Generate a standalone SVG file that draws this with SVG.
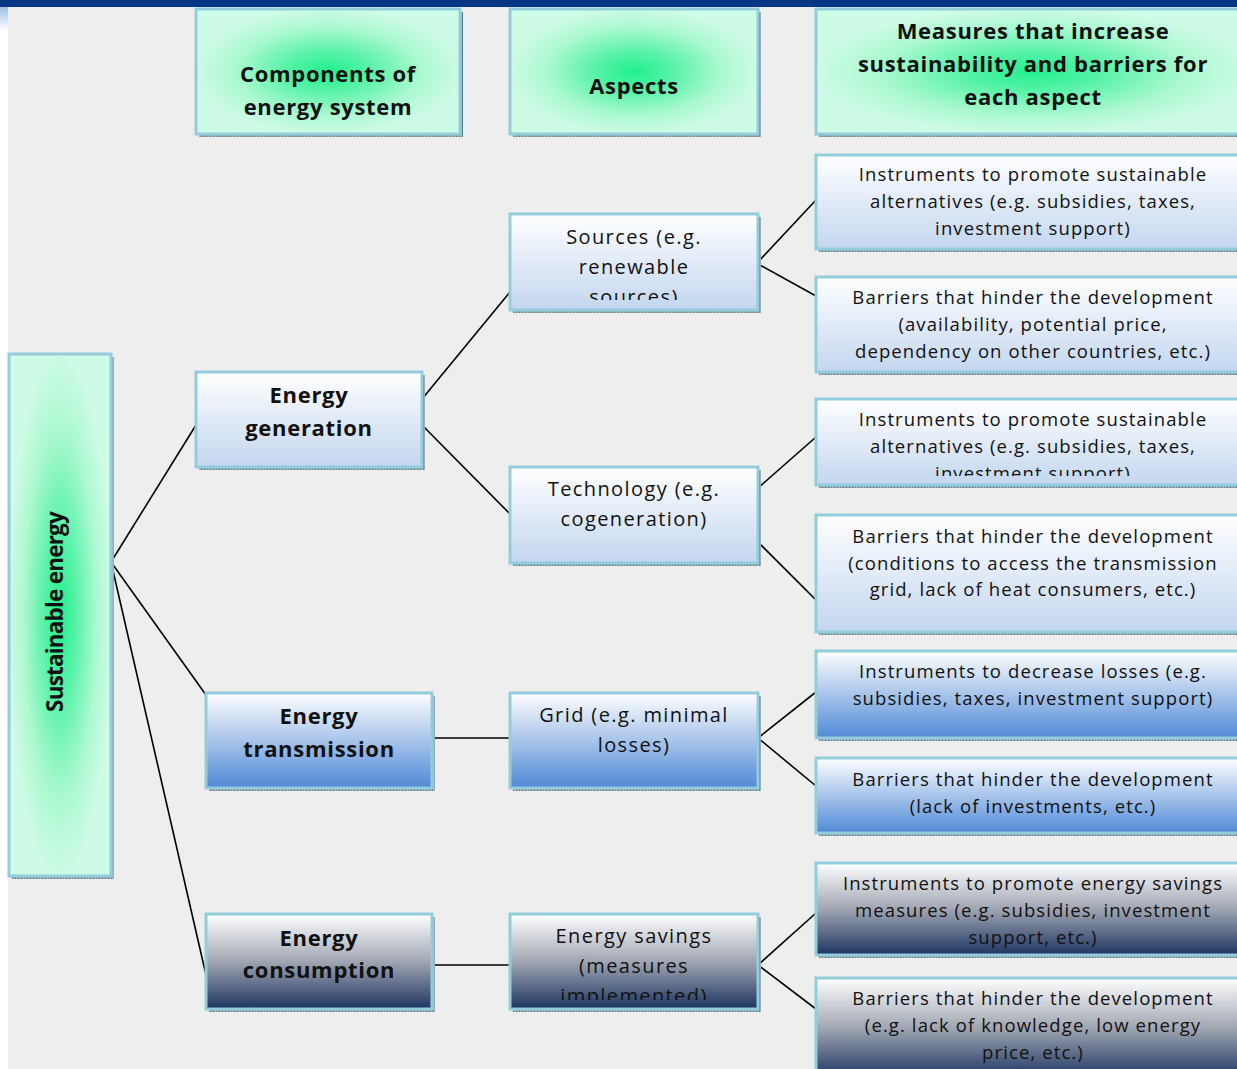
<svg xmlns="http://www.w3.org/2000/svg" width="1237" height="1069" viewBox="0 0 1237 1069">
<defs>
<style>
.box{stroke:#93cddd;stroke-width:3}
.sh{fill:url(#shp)}
.t{font-family:"Open Sans","Noto Sans",sans-serif;fill:#111;text-anchor:middle}
.r{font-size:18.5px;letter-spacing:1.1px}
.a{font-size:20px;letter-spacing:1.4px}
.b{font-size:22px;font-weight:700;letter-spacing:0.7px}
.c{stroke:#000;stroke-width:1.6;fill:none}
</style>
<pattern id="shp" width="3" height="3" patternUnits="userSpaceOnUse">
<rect width="3" height="3" fill="#9aadb4"/>
<rect width="1" height="3" fill="#5f7b86"/>
</pattern>
<radialGradient id="gg" cx="0.5" cy="0.5" r="0.5">
<stop offset="0" stop-color="#22f08c"/>
<stop offset="0.3" stop-color="#55f2a6"/>
<stop offset="0.7" stop-color="#aaf8d0"/>
<stop offset="1" stop-color="#cdfbe5"/>
</radialGradient>
<linearGradient id="gl" x1="0" y1="0" x2="0" y2="1">
<stop offset="0" stop-color="#ffffff"/>
<stop offset="1" stop-color="#c3d6ef"/>
</linearGradient>
<linearGradient id="gb" x1="0" y1="0" x2="0" y2="1">
<stop offset="0" stop-color="#ffffff"/>
<stop offset="1" stop-color="#5089d6"/>
</linearGradient>
<linearGradient id="gd" x1="0" y1="0" x2="0" y2="1">
<stop offset="0" stop-color="#ffffff"/>
<stop offset="0.5" stop-color="#a0a6b2"/>
<stop offset="1" stop-color="#1d3461"/>
</linearGradient>
<linearGradient id="gtl" x1="0" y1="0" x2="0" y2="1">
<stop offset="0" stop-color="#9fc0e8"/>
<stop offset="1" stop-color="#ffffff"/>
</linearGradient>
<clipPath id="cs"><rect x="505" y="210" width="260" height="90"/></clipPath>
<clipPath id="cr3"><rect x="810" y="395" width="440" height="81"/></clipPath>
<clipPath id="ces"><rect x="505" y="910" width="260" height="90"/></clipPath>
</defs>

<rect x="0" y="0" width="1237" height="1069" fill="#ffffff"/>
<rect x="8" y="7" width="1229" height="1062" fill="#eeeeee"/>
<rect x="0" y="7" width="8" height="24" fill="url(#gtl)"/>
<rect x="0" y="0" width="1237" height="7" fill="#063784"/>

<g id="connectors">
<line class="c" x1="111" y1="562" x2="196" y2="425"/>
<line class="c" x1="111" y1="562" x2="206" y2="695"/>
<line class="c" x1="111" y1="562" x2="206" y2="975"/>
<line class="c" x1="422" y1="399" x2="510" y2="292"/>
<line class="c" x1="422" y1="425" x2="510" y2="514"/>
<line class="c" x1="432" y1="738" x2="510" y2="738"/>
<line class="c" x1="432" y1="965" x2="510" y2="965"/>
<line class="c" x1="758" y1="262" x2="816" y2="200"/>
<line class="c" x1="758" y1="264" x2="816" y2="296"/>
<line class="c" x1="758" y1="488" x2="816" y2="437"/>
<line class="c" x1="758" y1="542" x2="816" y2="600"/>
<line class="c" x1="758" y1="738" x2="816" y2="692"/>
<line class="c" x1="758" y1="738" x2="816" y2="786"/>
<line class="c" x1="758" y1="965" x2="816" y2="913"/>
<line class="c" x1="758" y1="965" x2="816" y2="1009"/>
</g>

<g id="hdr-components">
<rect class="sh" x="199" y="12" width="264" height="125"/>
<rect class="box" x="196" y="9" width="264" height="125" fill="url(#gg)"/>
<text class="t b" x="328" y="82">Components of</text>
<text class="t b" x="328" y="115">energy system</text>
</g>
<g id="hdr-aspects">
<rect class="sh" x="513" y="12" width="248" height="125"/>
<rect class="box" x="510" y="9" width="248" height="125" fill="url(#gg)"/>
<text class="t b" x="634" y="94">Aspects</text>
</g>
<g id="hdr-measures">
<rect class="sh" x="819" y="12" width="434" height="125"/>
<rect class="box" x="816" y="9" width="434" height="125" fill="url(#gg)"/>
<text class="t b" x="1033" y="39">Measures that increase</text>
<text class="t b" x="1033" y="72">sustainability and barriers for</text>
<text class="t b" x="1033" y="105">each aspect</text>
</g>

<g id="sustainable">
<rect class="sh" x="12" y="357" width="102" height="522"/>
<rect class="box" x="9" y="354" width="102" height="522" fill="url(#gg)"/>
<text class="t" transform="translate(63 612) rotate(-90)" style="font-size:22.5px;font-weight:700;letter-spacing:-0.8px">Sustainable energy</text>
</g>

<g id="generation">
<rect class="sh" x="199" y="375" width="226" height="95"/>
<rect class="box" x="196" y="372" width="226" height="95" fill="url(#gl)"/>
<text class="t b" x="309" y="403">Energy</text>
<text class="t b" x="309" y="436">generation</text>
</g>
<g id="transmission">
<rect class="sh" x="209" y="696" width="226" height="95"/>
<rect class="box" x="206" y="693" width="226" height="95" fill="url(#gb)"/>
<text class="t b" x="319" y="724">Energy</text>
<text class="t b" x="319" y="757">transmission</text>
</g>
<g id="consumption">
<rect class="sh" x="209" y="917" width="226" height="95"/>
<rect class="box" x="206" y="914" width="226" height="95" fill="url(#gd)"/>
<text class="t b" x="319" y="946">Energy</text>
<text class="t b" x="319" y="978">consumption</text>
</g>

<g id="sources">
<rect class="sh" x="513" y="217" width="248" height="96"/>
<rect class="box" x="510" y="214" width="248" height="96" fill="url(#gl)"/>
<g clip-path="url(#cs)">
<text class="t a" x="634" y="244">Sources (e.g.</text>
<text class="t a" x="634" y="274">renewable</text>
<text class="t a" x="634" y="304">sources)</text>
</g>
</g>
<g id="technology">
<rect class="sh" x="513" y="470" width="248" height="96"/>
<rect class="box" x="510" y="467" width="248" height="96" fill="url(#gl)"/>
<text class="t a" x="634" y="496">Technology (e.g.</text>
<text class="t a" x="634" y="526">cogeneration)</text>
</g>
<g id="grid">
<rect class="sh" x="513" y="696" width="248" height="95"/>
<rect class="box" x="510" y="693" width="248" height="95" fill="url(#gb)"/>
<text class="t a" x="634" y="722">Grid (e.g. minimal</text>
<text class="t a" x="634" y="752">losses)</text>
</g>
<g id="savings">
<rect class="sh" x="513" y="917" width="248" height="95"/>
<rect class="box" x="510" y="914" width="248" height="95" fill="url(#gd)"/>
<g clip-path="url(#ces)">
<text class="t a" x="634" y="943">Energy savings</text>
<text class="t a" x="634" y="973">(measures</text>
<text class="t a" x="634" y="1003">implemented)</text>
</g>
</g>

<g id="r1">
<rect class="sh" x="819" y="158" width="434" height="94"/>
<rect class="box" x="816" y="155" width="434" height="94" fill="url(#gl)"/>
<text class="t r" x="1033" y="181">Instruments to promote sustainable</text>
<text class="t r" x="1033" y="208">alternatives (e.g. subsidies, taxes,</text>
<text class="t r" x="1033" y="235">investment support)</text>
</g>
<g id="r2">
<rect class="sh" x="819" y="280" width="434" height="95"/>
<rect class="box" x="816" y="277" width="434" height="95" fill="url(#gl)"/>
<text class="t r" x="1033" y="304">Barriers that hinder the development</text>
<text class="t r" x="1033" y="331">(availability, potential price,</text>
<text class="t r" x="1033" y="358">dependency on other countries, etc.)</text>
</g>
<g id="r3">
<rect class="sh" x="819" y="402" width="434" height="86"/>
<rect class="box" x="816" y="399" width="434" height="86" fill="url(#gl)"/>
<g clip-path="url(#cr3)">
<text class="t r" x="1033" y="426">Instruments to promote sustainable</text>
<text class="t r" x="1033" y="453">alternatives (e.g. subsidies, taxes,</text>
<text class="t r" x="1033" y="480">investment support)</text>
</g>
</g>
<g id="r4">
<rect class="sh" x="819" y="518" width="434" height="117"/>
<rect class="box" x="816" y="515" width="434" height="117" fill="url(#gl)"/>
<text class="t r" x="1033" y="543">Barriers that hinder the development</text>
<text class="t r" x="1033" y="570">(conditions to access the transmission</text>
<text class="t r" x="1033" y="596">grid, lack of heat consumers, etc.)</text>
</g>
<g id="r5">
<rect class="sh" x="819" y="654" width="434" height="87"/>
<rect class="box" x="816" y="651" width="434" height="87" fill="url(#gb)"/>
<text class="t r" x="1033" y="678">Instruments to decrease losses (e.g.</text>
<text class="t r" x="1033" y="705">subsidies, taxes, investment support)</text>
</g>
<g id="r6">
<rect class="sh" x="819" y="761" width="434" height="75"/>
<rect class="box" x="816" y="758" width="434" height="75" fill="url(#gb)"/>
<text class="t r" x="1033" y="786">Barriers that hinder the development</text>
<text class="t r" x="1033" y="813">(lack of investments, etc.)</text>
</g>
<g id="r7">
<rect class="sh" x="819" y="866" width="434" height="92"/>
<rect class="box" x="816" y="863" width="434" height="92" fill="url(#gd)"/>
<text class="t r" x="1033" y="890">Instruments to promote energy savings</text>
<text class="t r" x="1033" y="917">measures (e.g. subsidies, investment</text>
<text class="t r" x="1033" y="944">support, etc.)</text>
</g>
<g id="r8">
<rect class="sh" x="819" y="981" width="434" height="100"/>
<rect class="box" x="816" y="978" width="434" height="100" fill="url(#gd)"/>
<text class="t r" x="1033" y="1005">Barriers that hinder the development</text>
<text class="t r" x="1033" y="1032">(e.g. lack of knowledge, low energy</text>
<text class="t r" x="1033" y="1059">price, etc.)</text>
</g>
</svg>
